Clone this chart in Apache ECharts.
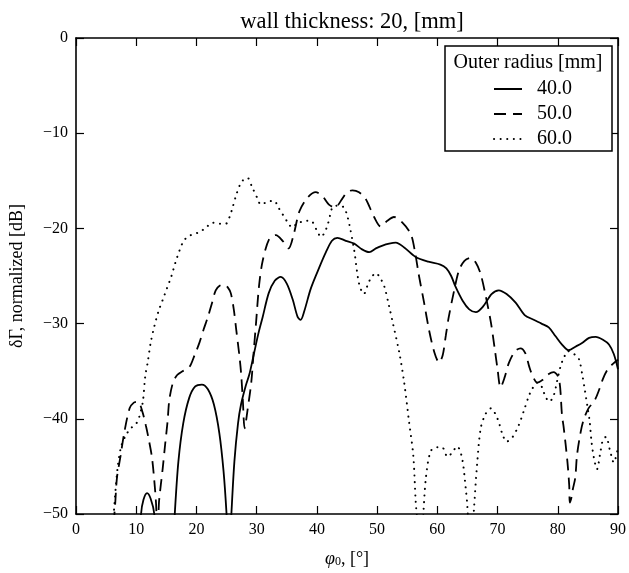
<!DOCTYPE html>
<html>
<head>
<meta charset="utf-8">
<script src="https://cdn.jsdelivr.net/npm/echarts@6/dist/echarts.min.js"></script>
<style>
  html, body { margin: 0; padding: 0; background: #fff; }
  #chart { width: 629px; height: 573px; }
</style>
</head>
<body>
<div id="chart"></div>
<script>
var serif = '"Liberation Serif", "DejaVu Serif", serif';

var radii = ['40.0', '50.0', '60.0'];

// Outer radius 40.0 (solid)
var phi40 = [10.4, 10.8, 11.2, 11.8, 12.4, 13.0, 13.4, 16.0, 16.4, 17.0, 17.8, 18.8, 19.8, 20.9, 21.9, 22.9, 23.8, 24.5, 25.0, 25.4, 25.8, 26.3, 26.9, 27.4, 28.2, 28.8, 29.5, 30.3, 31.0, 32.0, 33.0, 34.0, 35.0, 36.0, 36.8, 37.3, 37.9, 39.0, 40.4, 41.5, 42.5, 43.4, 44.8, 46.2, 47.5, 48.7, 49.8, 50.9, 52.0, 53.1, 54.5, 56.4, 58.5, 60.5, 61.5, 62.3, 63.0, 64.2, 65.3, 66.4, 67.6, 69.0, 70.2, 71.5, 73.0, 74.5, 76.0, 77.3, 78.5, 79.6, 80.7, 81.8, 83.0, 84.1, 85.2, 86.3, 87.5, 88.5, 89.3, 90.0];
var db40 = [-55, -50, -48.5, -47.8, -48.4, -50, -55, -55, -50, -44.5, -40.5, -37.8, -36.6, -36.4, -36.9, -38.5, -41.5, -45.5, -50, -55, -50, -44.5, -40.5, -38.5, -36.5, -35.3, -33.3, -31.0, -29.3, -26.8, -25.5, -25.1, -25.8, -27.5, -29.3, -29.6, -28.7, -26.3, -24.1, -22.5, -21.3, -21.0, -21.3, -21.6, -22.2, -22.5, -22.1, -21.8, -21.6, -21.5, -22.0, -23.0, -23.5, -23.8, -24.2, -25.0, -26.1, -27.6, -28.5, -28.8, -28.2, -26.9, -26.5, -26.9, -27.8, -29.1, -29.6, -30.0, -30.4, -31.3, -32.2, -32.8, -32.4, -32.0, -31.5, -31.4, -31.7, -32.2, -33.2, -34.8];

// Outer radius 50.0 (dashed)
var phi50 = [6.0, 6.5, 6.8, 7.4, 8.0, 8.9, 9.6, 10.3, 11.0, 11.6, 12.0, 12.6, 13.0, 13.3, 13.5, 13.7, 13.8, 14.4, 14.8, 15.2, 15.5, 16.1, 16.8, 17.7, 18.8, 19.7, 20.5, 21.2, 21.9, 22.6, 23.2, 23.9, 24.6, 25.2, 25.7, 26.2, 26.6, 27.1, 27.4, 27.7, 28.0, 28.5, 29.1, 29.5, 29.9, 30.4, 31.0, 32.1, 33.2, 34.3, 35.3, 36.2, 37.1, 38.4, 39.8, 40.9, 42.0, 43.0, 44.2, 45.0, 45.9, 47.0, 48.1, 49.5, 50.6, 51.7, 52.8, 54.2, 55.6, 56.3, 56.9, 57.8, 58.6, 59.5, 60.3, 60.9, 61.4, 61.9, 62.8, 63.6, 64.5, 65.5, 66.4, 67.2, 68.1, 68.9, 69.5, 70.0, 70.5, 71.2, 71.9, 72.9, 73.8, 74.6, 75.3, 75.9, 76.6, 77.5, 78.5, 79.3, 80.2, 80.7, 81.0, 81.6, 81.9, 82.0, 82.3, 82.5, 82.9, 83.2, 83.8, 84.3, 85.1, 86.1, 86.9, 87.5, 88.3, 89.2, 90.0];
var db50 = [-53, -49.0, -46.2, -43.9, -41.5, -38.9, -38.3, -38.2, -39.2, -40.7, -41.9, -44.0, -46.5, -49, -53, -50, -48.6, -45.2, -42.7, -40.3, -38.0, -36.2, -35.4, -35.0, -34.6, -33.3, -32.0, -30.6, -29.3, -27.8, -26.5, -26.0, -25.9, -26.2, -26.8, -28.5, -30.6, -33.2, -35.1, -38.0, -41.0, -39.0, -36.2, -33.0, -29.9, -26.0, -23.4, -21.1, -20.7, -21.3, -22.1, -20.5, -18.2, -16.8, -16.2, -16.6, -17.5, -17.8, -16.9, -16.2, -16.0, -16.2, -16.9, -18.8, -19.8, -19.2, -18.8, -19.4, -20.6, -22.5, -24.8, -27.8, -30.6, -33.0, -34.1, -33.3, -31.3, -29.3, -26.5, -24.4, -23.4, -23.1, -23.6, -24.8, -27.3, -29.9, -32.5, -34.8, -36.7, -35.6, -34.1, -32.9, -32.6, -33.1, -34.6, -35.6, -36.2, -35.9, -35.3, -35.1, -35.8, -39.6, -41.0, -44.5, -47.0, -48.8, -48.2, -47.4, -46.2, -43.8, -41.4, -40.1, -38.9, -38.1, -36.9, -35.8, -34.8, -34.2, -33.8];

// Outer radius 60.0 (dotted)
var phi60 = [6.0, 6.3, 6.9, 7.5, 8.3, 9.1, 10.0, 10.5, 11.1, 11.5, 11.9, 12.4, 13.0, 13.7, 14.4, 15.1, 15.8, 16.5, 17.2, 17.8, 18.5, 19.5, 20.5, 21.6, 22.7, 23.8, 24.9, 25.5, 26.0, 26.7, 27.4, 28.0, 28.5, 29.2, 30.1, 30.7, 31.8, 32.9, 33.6, 34.3, 35.1, 35.9, 36.5, 37.1, 38.0, 39.0, 39.9, 40.7, 41.3, 41.8, 42.2, 42.6, 43.5, 44.5, 45.0, 45.4, 46.2, 47.0, 47.8, 48.4, 48.9, 49.8, 50.5, 51.2, 52.0, 52.6, 53.7, 54.5, 55.3, 56.0, 56.4, 56.7, 57.2, 57.6, 58.1, 58.9, 60.0, 60.8, 61.7, 62.4, 63.3, 64.1, 64.7, 65.0, 65.5, 66.1, 66.6, 67.2, 68.0, 68.9, 70.0, 70.8, 71.5, 72.4, 73.5, 74.4, 75.2, 75.8, 76.6, 77.4, 77.9, 78.6, 79.3, 79.9, 80.5, 81.0, 81.7, 82.7, 83.5, 84.1, 84.5, 84.9, 85.3, 85.6, 86.0, 86.5, 87.1, 87.5, 88.0, 88.7, 89.3, 90.0];
var db60 = [-53, -49.7, -45.2, -42.9, -41.7, -41.0, -40.5, -39.8, -38.2, -35.5, -34.1, -32.0, -30.3, -28.7, -27.5, -26.3, -25.1, -23.6, -22.3, -21.4, -20.9, -20.6, -20.4, -19.9, -19.4, -19.5, -19.5, -18.8, -17.8, -16.3, -15.2, -14.8, -14.7, -15.6, -16.8, -17.5, -17.2, -17.1, -17.8, -18.5, -19.3, -19.9, -19.6, -19.4, -19.2, -19.2, -20.1, -20.9, -20.4, -19.6, -18.6, -17.8, -17.6, -17.8, -18.6, -19.6, -22.3, -25.8, -26.9, -26.0, -25.3, -24.7, -25.2, -26.1, -28.2, -29.9, -33.1, -36.2, -40.3, -43.8, -48.6, -51, -56, -51, -46.2, -43.4, -43.0, -43.0, -44.0, -43.6, -42.9, -44.1, -47.2, -49.3, -55, -49.3, -44.8, -41.0, -39.5, -38.9, -40.0, -41.6, -42.4, -42.0, -40.7, -39.1, -37.6, -36.8, -36.2, -36.7, -37.6, -38.2, -37.6, -36.0, -34.4, -33.6, -32.9, -33.2, -33.7, -35.5, -37.0, -38.6, -40.3, -42.4, -44.1, -45.3, -43.4, -42.2, -41.9, -43.4, -44.6, -43.0];

var xTicks = [0, 10, 20, 30, 40, 50, 60, 70, 80, 90];
var yTicks = [-50, -40, -30, -20, -10, 0];

function pairs(xs, ys) {
  return xs.map(function(x, i) { return [x, ys[i]]; });
}

function frame() { return { show: true, onZero: false, lineStyle: { color: '#000', width: 1.6 } }; }
function tick() { return { show: true, inside: true, length: 8, lineStyle: { color: '#000', width: 1.2 } }; }

var chart = echarts.init(document.getElementById('chart'), null, { renderer: 'canvas' });
chart.setOption({
  animation: false,
  backgroundColor: '#fff',
  title: {
    text: 'wall thickness: 20, [mm]',
    left: 347,
    top: 6,
    textAlign: 'center',
    textStyle: { fontFamily: serif, fontSize: 22.5, fontWeight: 'normal', color: '#000' }
  },
  grid: { left: 76, right: 10, top: 38, bottom: 53 },
  xAxis: [{
    type: 'value',
    min: xTicks[0],
    max: xTicks[xTicks.length - 1],
    interval: 10,
    axisLine: frame(),
    axisTick: tick(),
    splitLine: { show: false },
    axisLabel: { color: '#000', fontFamily: serif, fontSize: 16, margin: 8 },
    name: '{i|φ}{s|0}, [°]',
    nameLocation: 'middle',
    nameGap: 36,
    nameTextStyle: {
      color: '#000', fontFamily: serif, fontSize: 18,
      rich: {
        i: { fontFamily: serif, fontStyle: 'italic', fontSize: 18, color: '#000' },
        s: { fontFamily: serif, fontSize: 12, color: '#000', verticalAlign: 'bottom', padding: [6, 0, 0, 0] }
      }
    }
  }, {
    type: 'value',
    position: 'top',
    min: xTicks[0],
    max: xTicks[xTicks.length - 1],
    interval: 10,
    axisLine: frame(),
    axisTick: tick(),
    axisLabel: { show: false },
    splitLine: { show: false }
  }],
  yAxis: [{
    type: 'value',
    min: yTicks[0],
    max: yTicks[yTicks.length - 1],
    interval: 10,
    axisLine: frame(),
    axisTick: tick(),
    splitLine: { show: false },
    axisLabel: {
      color: '#000', fontFamily: serif, fontSize: 16, margin: 8,
      formatter: function(v) { return v < 0 ? '\u2212' + Math.abs(v) : String(v); }
    },
    name: 'δΓ, normalized [dB]',
    nameLocation: 'middle',
    nameGap: 50,
    nameTextStyle: { color: '#000', fontFamily: serif, fontSize: 18 }
  }, {
    type: 'value',
    position: 'right',
    min: yTicks[0],
    max: yTicks[yTicks.length - 1],
    interval: 10,
    axisLine: frame(),
    axisTick: tick(),
    axisLabel: { show: false },
    splitLine: { show: false }
  }],
  legend: {
    orient: 'vertical',
    left: 488,
    top: 74,
    z: 20,
    itemWidth: 28,
    itemHeight: 14,
    itemGap: 5,
    data: radii,
    itemStyle: { opacity: 0 },
    textStyle: { color: '#000', fontFamily: serif, fontSize: 20, lineHeight: 20, padding: [0, 0, 0, 10] }
  },
  graphic: [{
    type: 'rect',
    shape: { x: 445, y: 46, width: 167, height: 105 },
    style: { fill: '#fff', stroke: '#000', lineWidth: 1.5 },
    z: 1
  }, {
    type: 'text',
    x: 528,
    y: 63,
    style: {
      text: 'Outer radius [mm]',
      fill: '#000',
      font: '20px ' + serif,
      textAlign: 'center',
      textVerticalAlign: 'middle'
    },
    z: 2
  }],
  series: [{
    name: radii[0],
    type: 'line',
    data: pairs(phi40, db40),
    showSymbol: false,
    symbol: 'none',
    smooth: 0.3,
    clip: true,
    lineStyle: { color: '#000', width: 1.8, type: 'solid' },
    itemStyle: { color: '#000' }
  }, {
    name: radii[1],
    type: 'line',
    data: pairs(phi50, db50),
    showSymbol: false,
    symbol: 'none',
    smooth: 0.3,
    clip: true,
    lineStyle: { color: '#000', width: 1.8, type: [12, 7] },
    itemStyle: { color: '#000' }
  }, {
    name: radii[2],
    type: 'line',
    data: pairs(phi60, db60),
    showSymbol: false,
    symbol: 'none',
    smooth: 0.3,
    clip: true,
    lineStyle: { color: '#000', width: 2, type: [0.1, 6.5], cap: 'round' },
    itemStyle: { color: '#000' }
  }]
});
</script>
</body>
</html>
